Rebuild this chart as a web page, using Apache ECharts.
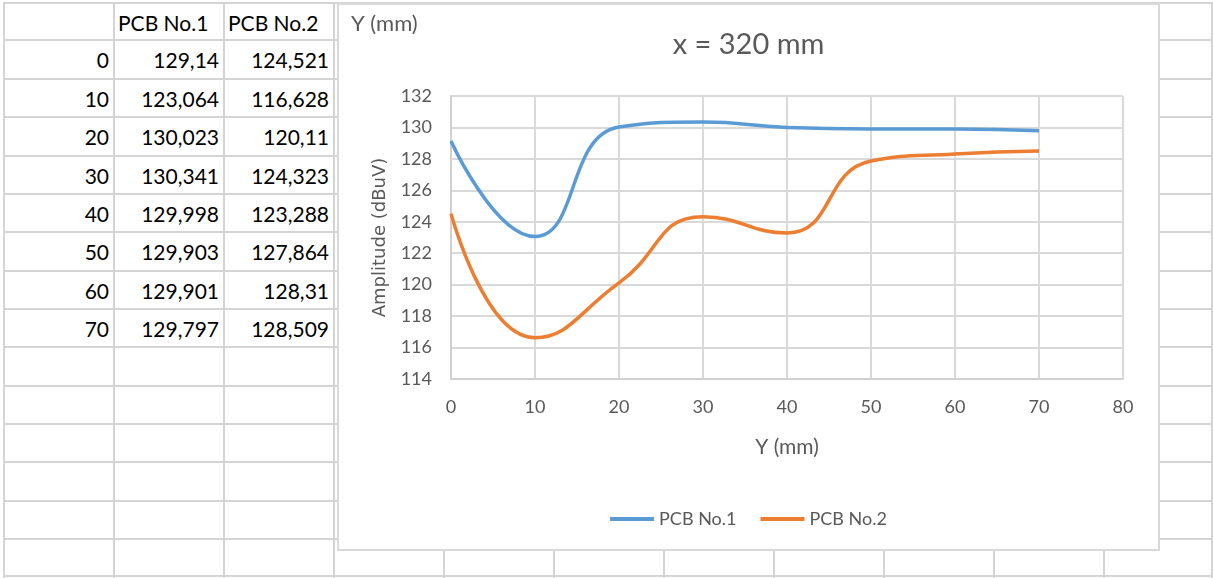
<!DOCTYPE html>
<html>
<head>
<meta charset="utf-8">
<script src="https://cdn.jsdelivr.net/npm/echarts@6/dist/echarts.min.js"></script>
<style>
  body { margin: 0; background: #fff; font-family: Lato, sans-serif; }
  #sheet { position: relative; width: 1213px; height: 578px; overflow: hidden; }
  .vl { position: absolute; width: 2px; background: #d4d4d4; }
  .hl { position: absolute; height: 2px; background: #d4d4d4; }
  .cell { position: absolute; height: 38px; line-height: 38px; font-size: 21px; color: #000; white-space: nowrap; }
  #chart { position: absolute; left: 337px; top: 3px; width: 823px; height: 548px;
           box-sizing: border-box; border: 2px solid #d9d9d9; background: #fff; }
</style>
</head>
<body>
<div id="sheet">
  <div id="chart"></div>
</div>
<script>
// data
var seriesNames = ['PCB No.1', 'PCB No.2'];
var yPositions = [0, 10, 20, 30, 40, 50, 60, 70];
var pcb1 = [129.14, 123.064, 130.023, 130.341, 129.998, 129.903, 129.901, 129.797];
var pcb2 = [124.521, 116.628, 120.11, 124.323, 123.288, 127.864, 128.31, 128.509];

// spreadsheet grid
var colLines = [4, 114, 224, 334, 444, 554, 664, 774, 884, 994, 1104, 1212];
var rowLines = [3, 40, 79, 117, 156, 194, 232, 271, 309, 347, 386, 424, 462, 501, 539, 576];
var sheet = document.getElementById('sheet');
var chartDiv = document.getElementById('chart');

colLines.forEach(function (x) {
    var d = document.createElement('div');
    d.className = 'vl';
    d.style.left = (x - 1) + 'px';
    d.style.top = '2px';
    d.style.height = '576px';
    sheet.insertBefore(d, chartDiv);
});
rowLines.forEach(function (y) {
    var d = document.createElement('div');
    d.className = 'hl';
    d.style.left = '3px';
    d.style.top = (y - 1) + 'px';
    d.style.width = '1212px';
    sheet.insertBefore(d, chartDiv);
});

function addCell(text, col, row, align) {
    var d = document.createElement('div');
    d.className = 'cell';
    d.textContent = text;
    d.style.left = (colLines[col] + 4) + 'px';
    d.style.width = (colLines[col + 1] - colLines[col] - 9) + 'px';
    d.style.top = (rowLines[row] + 1) + 'px';
    d.style.textAlign = align;
    sheet.insertBefore(d, chartDiv);
}
function fmt(v) { return String(v).replace('.', ','); }

addCell(seriesNames[0], 1, 0, 'left');
addCell(seriesNames[1], 2, 0, 'left');
yPositions.forEach(function (p, i) {
    addCell(String(p), 0, i + 1, 'right');
    addCell(fmt(pcb1[i]), 1, i + 1, 'right');
    addCell(fmt(pcb2[i]), 2, i + 1, 'right');
});

// chart
var myChart = echarts.init(chartDiv);
var textColor = '#595959';
var option = {
    animation: false,
    textStyle: { fontFamily: 'Lato' },
    title: {
        text: 'x = 320 mm',
        left: 'center',
        top: 20,
        textStyle: { fontSize: 29, fontWeight: 'normal', color: textColor, fontFamily: 'Lato' }
    },
    graphic: [{
        type: 'text',
        left: 12,
        top: 8,
        style: { text: 'Y (mm)', fontSize: 22, fill: textColor, fontFamily: 'Lato' }
    }],
    legend: {
        bottom: 16,
        left: 'center',
        itemWidth: 44,
        itemHeight: 4,
        itemGap: 24,
        icon: 'rect',
        textStyle: { fontSize: 18, color: textColor },
        data: seriesNames
    },
    grid: { left: 112, top: 91, width: 672, height: 283 },
    xAxis: {
        type: 'value',
        min: 0,
        max: 80,
        interval: 10,
        name: 'Y (mm)',
        nameLocation: 'middle',
        nameGap: 58,
        nameTextStyle: { fontSize: 21, color: textColor },
        axisLine: { lineStyle: { color: '#d0d0d0', width: 2 } },
        axisTick: { show: false },
        axisLabel: { fontSize: 18, color: textColor, margin: 19 },
        splitLine: { show: true, lineStyle: { color: '#d9d9d9', width: 2 } }
    },
    yAxis: {
        type: 'value',
        min: 114,
        max: 132,
        interval: 2,
        name: 'Amplitude (dBuV)',
        nameLocation: 'middle',
        nameGap: 60,
        nameTextStyle: { fontSize: 18, color: textColor, fontFamily: 'DejaVu Sans' },
        axisLine: { show: true, lineStyle: { color: '#d0d0d0', width: 2 } },
        axisTick: { show: false },
        axisLabel: { fontSize: 18, color: textColor, margin: 19 },
        splitLine: { show: true, lineStyle: { color: '#d9d9d9', width: 2 } }
    },
    series: [
        {
            name: seriesNames[0],
            type: 'line',
            smooth: true,
            symbol: 'none',
            lineStyle: { width: 3.5, color: '#5B9BD5' },
            itemStyle: { color: '#5B9BD5' },
            data: yPositions.map(function (p, i) { return [p, pcb1[i]]; })
        },
        {
            name: seriesNames[1],
            type: 'line',
            smooth: true,
            symbol: 'none',
            lineStyle: { width: 3.5, color: '#ED7D31' },
            itemStyle: { color: '#ED7D31' },
            data: yPositions.map(function (p, i) { return [p, pcb2[i]]; })
        }
    ]
};
myChart.setOption(option);
</script>
</body>
</html>
